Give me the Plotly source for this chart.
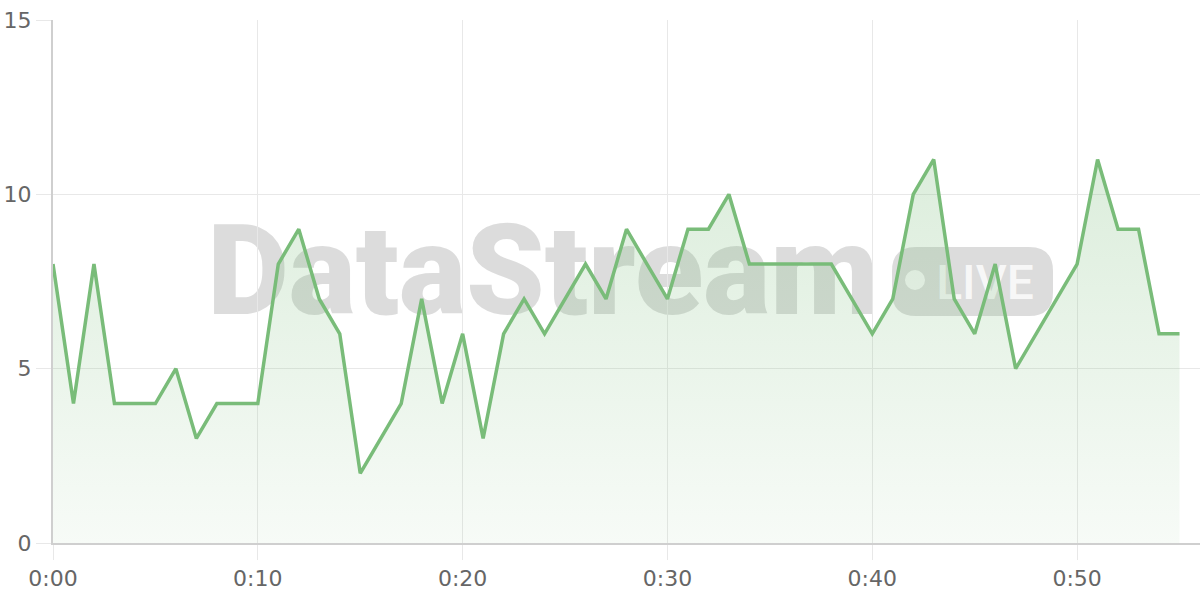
import plotly.graph_objects as go

# ---- data ----
minutes = list(range(0, 56))
values = [8, 4, 8, 4, 4, 4, 5, 3, 4, 4,
          4, 8, 9, 7, 6, 2, 3, 4, 7, 4,
          6, 3, 6, 7, 6, 7, 8, 7, 9, 8,
          7, 9, 9, 10, 8, 8, 8, 8, 8, 7,
          6, 7, 10, 11, 7, 6, 8, 5, 6, 7,
          8, 11, 9, 9, 6, 6]
x_tickvals = [0, 10, 20, 30, 40, 50]
x_ticktext = ["0:00", "0:10", "0:20", "0:30", "0:40", "0:50"]
y_tickvals = [0, 5, 10, 15]

W, H = 1200, 600
ML, MR, MT, MB = 53, 0, 20, 57
PW, PH = W - ML - MR, H - MT - MB


def px(x):
    return (x - ML) / PW


def py(y):
    return (H - MB - y) / PH


LINE = "#79bc79"
GRID = "#e8e8e8"
AXIS = "#cfcfcf"
FONT = "DejaVu Sans"

fig = go.Figure()
fig.add_trace(go.Scatter(
    x=minutes, y=values, mode="lines",
    line=dict(color=LINE, width=3.5),
    fill="tozeroy",
    fillgradient=dict(type="vertical",
                      colorscale=[[0, "rgba(120,187,120,0.06)"],
                                  [1, "rgba(120,187,120,0.26)"]]),
    hoverinfo="skip", showlegend=False,
))

wm = "rgba(120,120,120,0.26)"
shapes = [
    # DataStream watermark text
    dict(type="rect", xref="paper", yref="paper", layer="below",
         x0=px(203), x1=px(883), y0=py(321), y1=py(203),
         line=dict(width=0), fillcolor="rgba(0,0,0,0)",
         label=dict(text="DataStream", textposition="middle center",
                    font=dict(family="Roboto", size=126, color=wm, weight=900))),
]
# rounded rectangle path for badge
r = 24
x0, x1, y0, y1 = 892, 1053, 247, 316
path = (f"M {px(x0 + r)},{py(y0)} L {px(x1 - r)},{py(y0)} "
        f"Q {px(x1)},{py(y0)} {px(x1)},{py(y0 + r)} L {px(x1)},{py(y1 - r)} "
        f"Q {px(x1)},{py(y1)} {px(x1 - r)},{py(y1)} L {px(x0 + r)},{py(y1)} "
        f"Q {px(x0)},{py(y1)} {px(x0)},{py(y1 - r)} L {px(x0)},{py(y0 + r)} "
        f"Q {px(x0)},{py(y0)} {px(x0 + r)},{py(y0)} Z")
shapes.append(dict(type="path", xref="paper", yref="paper", layer="below",
                   path=path, line=dict(width=0), fillcolor=wm))
shapes.append(dict(type="circle", xref="paper", yref="paper", layer="below",
                   x0=px(905), x1=px(925), y0=py(290), y1=py(270),
                   line=dict(width=0), fillcolor="rgba(255,255,255,0.8)"))
shapes.append(dict(type="rect", xref="paper", yref="paper", layer="below",
                   x0=px(934), x1=px(1036), y0=py(303), y1=py(255),
                   line=dict(width=0), fillcolor="rgba(0,0,0,0)",
                   label=dict(text="LIVE", textposition="middle center",
                              font=dict(family="Roboto", size=48,
                                        color="rgba(255,255,255,0.8)", weight=500))))

axis_common = dict(
    showgrid=True, gridcolor=GRID, gridwidth=1,
    ticks="outside", ticklen=15, tickcolor=GRID, tickwidth=1,
    showline=True, linecolor=AXIS, linewidth=2,
    zeroline=False, automargin=False,
    tickfont=dict(family=FONT, size=22, color="#666666"),
)

fig.update_layout(
    width=W, height=H, autosize=False,
    margin=dict(l=ML, r=MR, t=MT, b=MB, pad=0),
    paper_bgcolor="white", plot_bgcolor="white",
    shapes=shapes,
    xaxis=dict(range=[0, 56], tickmode="array", tickvals=x_tickvals,
               ticktext=x_ticktext, **axis_common),
    yaxis=dict(range=[0, 15], tickmode="array", tickvals=y_tickvals,
               **axis_common),
    showlegend=False,
    hovermode=False,
)

fig.write_html("out.html",
               config={"displayModeBar": False, "staticPlot": True},
               post_script="document.body.style.margin='0';"
                           "document.body.style.overflow='hidden';")
